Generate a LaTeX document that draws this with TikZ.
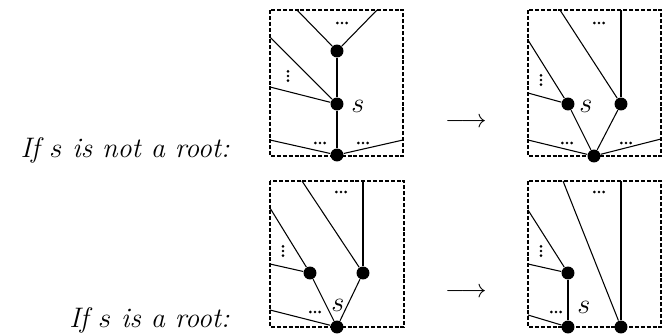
\documentclass[tikz,border=0pt]{standalone}
\begin{document}
\begin{tikzpicture}[x=0.425pt,y=-0.425pt,
  dot/.style={circle,fill,inner sep=0pt,minimum size=5.5pt},
  thinl/.style={line width=0.45pt},
  thickl/.style={line width=1.1pt},
  frame/.style={line width=1.1pt,dash pattern=on 1.7pt off 0.8pt},
  lab/.style={inner sep=0pt,font=\large},
  txt/.style={anchor=base east,inner sep=0pt,font=\fontsize{12}{14}\selectfont\itshape},
  hell/.pic={\fill (-4.6,0) circle (0.6pt) (0,0) circle (0.6pt) (4.6,0) circle (0.6pt);},
  vell/.pic={\fill (0,-4.6) circle (0.6pt) (0,0) circle (0.6pt) (0,4.6) circle (0.6pt);}
]
\useasboundingbox (0,0) rectangle (672,336);

% labels and arrows
\node[txt] (l1) at (230,157) {If $s$ is not a root:};
\node[txt] (l2) at (230,327) {If $s$ is a root:};
\node[inner sep=0pt,font=\fontsize{11}{13}\selectfont] (a1) at (466,123) {$\longrightarrow$};
\node[inner sep=0pt,font=\fontsize{11}{13}\selectfont] (a2) at (466,293) {$\longrightarrow$};

% ---------- Box 1 ----------
\draw[frame] (270,10) rectangle (403,156);
\node[dot] (t1) at (337,51) {};
\node[dot] (s1) at (337,104) {};
\node[dot] (b1) at (337,155) {};
\coordinate (t1a) at (297,10);
\coordinate (t1b) at (377,10);
\coordinate (s1a) at (270,37);
\coordinate (s1b) at (270,87);
\coordinate (b1a) at (270,140);
\coordinate (b1b) at (403,140);
\draw[thinl] (t1) -- (t1a) (t1) -- (t1b) (s1) -- (s1a) (s1) -- (s1b) (b1) -- (b1a) (b1) -- (b1b);
\draw[thickl] (t1) -- (s1) -- (b1);
\node[lab] (ls1) at (358,106) {$s$};
\pic at (342,23) {hell};
\pic at (320,143) {hell};
\pic at (363,143) {hell};
\pic at (288,76) {vell};

% ---------- Box 2 ----------
\draw[frame] (528,10) rectangle (661,156);
\node[dot] (s2) at (568,104) {};
\node[dot] (r2) at (621,104) {};
\node[dot] (b2) at (594,156) {};
\coordinate (r2t) at (621,10);
\coordinate (r2a) at (560,10);
\coordinate (s2a) at (528,40);
\coordinate (s2b) at (528,93);
\coordinate (b2a) at (528,140);
\coordinate (b2b) at (661,139);
\draw[thickl] (r2) -- (r2t);
\draw[thinl] (r2) -- (r2a) (s2) -- (s2a) (s2) -- (s2b) (s2) -- (b2) (r2) -- (b2) (b2) -- (b2a) (b2) -- (b2b);
\node[lab] (ls2) at (586,106) {$s$};
\pic at (599,23) {hell};
\pic at (567,143) {hell};
\pic at (626,143) {hell};
\pic at (541,80) {vell};

% ---------- Box 3 ----------
\draw[frame] (270,181) rectangle (404,327);
\node[dot] (l3) at (310,273) {};
\node[dot] (r3) at (363,273) {};
\node[dot] (b3) at (337,327) {};
\coordinate (r3t) at (363,181);
\coordinate (r3a) at (302,181);
\coordinate (l3a) at (270,208);
\coordinate (l3b) at (270,264);
\coordinate (b3a) at (270,310);
\draw[thickl] (r3) -- (r3t);
\draw[thinl] (r3) -- (r3a) (l3) -- (l3a) (l3) -- (l3b) (l3) -- (b3) (r3) -- (b3) (b3) -- (b3a);
\node[lab] (ls3) at (338,305) {$s$};
\pic at (341,192) {hell};
\pic at (315,312) {hell};
\pic at (283,251) {vell};

% ---------- Box 4 ----------
\draw[frame] (528,181) rectangle (661,327);
\node[dot] (l4) at (568,273) {};
\node[dot] (bl4) at (568,327) {};
\node[dot] (br4) at (621,327) {};
\coordinate (br4t) at (621,181);
\coordinate (br4a) at (563,181);
\coordinate (l4a) at (528,210);
\coordinate (l4b) at (528,264);
\coordinate (bl4a) at (528,315);
\draw[thickl] (l4) -- (bl4) (br4) -- (br4t);
\draw[thinl] (br4) -- (br4a) (l4) -- (l4a) (l4) -- (l4b) (bl4) -- (bl4a);
\node[lab] (ls4) at (584,307) {$s$};
\pic at (599,192) {hell};
\pic at (556,312) {hell};
\pic at (541,251) {vell};
\end{tikzpicture}
\end{document}
